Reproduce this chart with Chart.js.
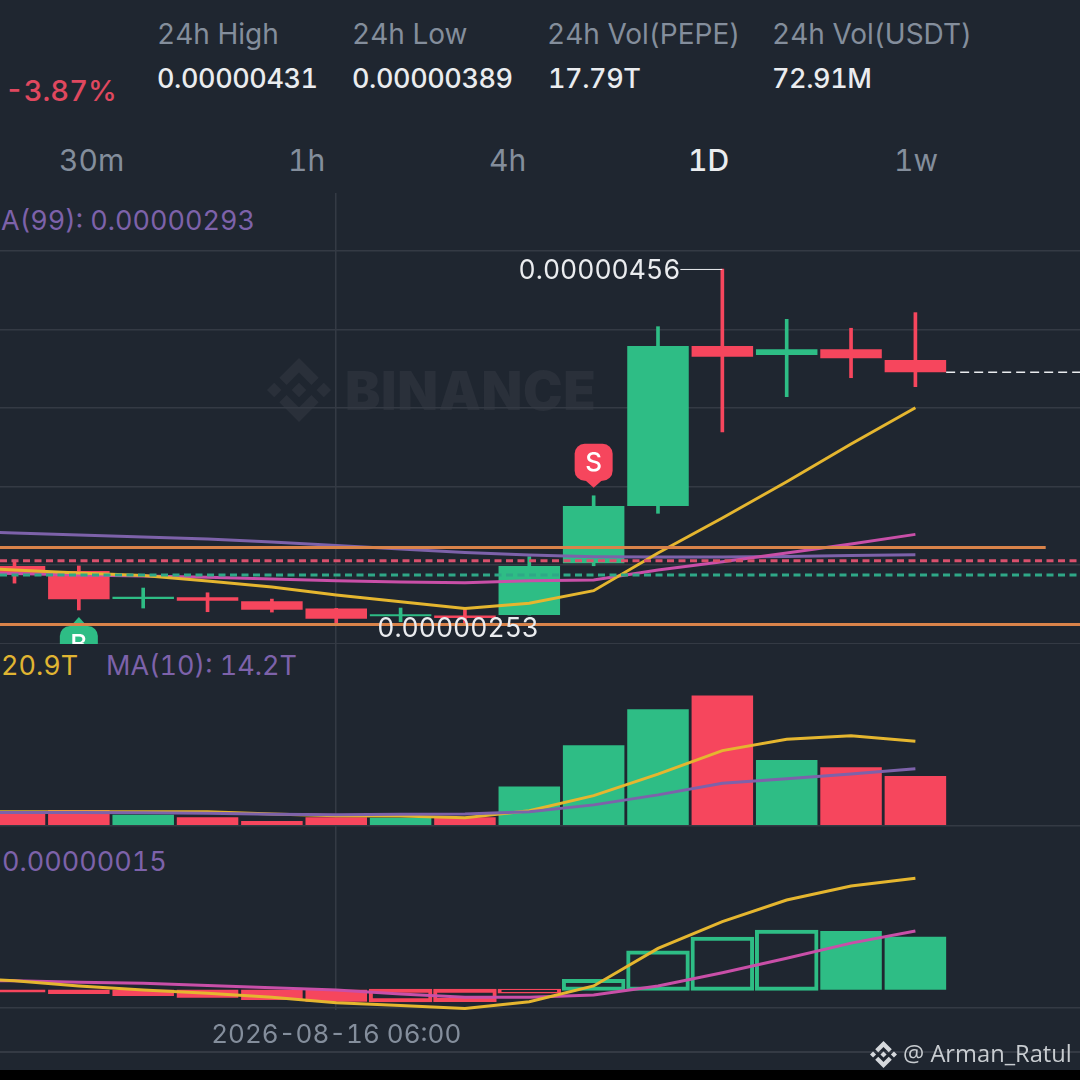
<!DOCTYPE html>
<html>
<head>
<meta charset="utf-8">
<title>PEPE/USDT</title>
<script src="https://cdn.jsdelivr.net/npm/chart.js@4"></script>
<style>
  html, body { margin: 0; padding: 0; background: #1f2630; }
  #page { position: relative; width: 1080px; height: 1080px; overflow: hidden; background: #1f2630; font-family: Inter, sans-serif; font-variant-numeric: tabular-nums; }
  #page canvas { position: absolute; left: 0; }
  .txt { position: absolute; white-space: nowrap; transform: translateY(-50%); line-height: 1; }
  .head { color: #848e9c; font-size: 28px; }
  .val { color: #eaecef; font-size: 27px; font-weight: 500; letter-spacing: -0.4px; }
  .tab { color: #848e9c; font-size: 30px; }
  .legend { font-size: 27px; }
  .purple { color: #7d62aa; }
  .yellow { color: #e0b532; }
  #timeRule { position: absolute; left: 0; top: 1051px; width: 1080px; height: 1.5px; background: #343a44; }
  #blackBar { position: absolute; left: 0; top: 1070px; width: 1080px; height: 10px; background: #000; }
</style>
</head>
<body>
<div id="page">
  <svg width="0" height="0" style="position:absolute">
    <symbol id="bnbLogo" viewBox="0 0 126.61 126.61">
      <path d="M38.73 53.2l24.59-24.58 24.6 24.6 14.3-14.31L63.32 0 24.41 38.9l14.32 14.3zM0 63.31l14.31-14.31 14.31 14.31-14.31 14.31zM38.73 73.41l24.59 24.59 24.6-24.6 14.31 14.29-38.9 38.91-38.91-38.88-.02-.02 14.33-14.29zM97.99 63.31l14.31-14.31 14.31 14.31-14.31 14.31zM77.83 63.3L63.32 48.78 52.59 59.51l-1.24 1.23-2.54 2.54 14.51 14.5 14.51-14.47z"/>
    </symbol>
  </svg>

  <span class="txt head" style="left:157px;top:34px">24h High</span>
  <span class="txt head" style="left:352px;top:34px">24h Low</span>
  <span class="txt head" style="left:547px;top:34px">24h Vol(PEPE)</span>
  <span class="txt head" style="left:772px;top:34px">24h Vol(USDT)</span>
  <span class="txt val" style="left:157px;top:78px">0.00000431</span>
  <span class="txt val" style="left:352px;top:78px">0.00000389</span>
  <span class="txt val" style="left:548px;top:78px">17.79T</span>
  <span class="txt val" style="left:772px;top:78px">72.91M</span>
  <span class="txt" style="left:5px;top:90px;font-size:29px;font-weight:500;color:#e0485f">-3.87%</span>

  <span class="txt tab" style="left:59px;top:160px">30m</span>
  <span class="txt tab" style="left:288px;top:160px">1h</span>
  <span class="txt tab" style="left:489px;top:160px">4h</span>
  <span class="txt tab" style="left:688px;top:160px;color:#eaecef;font-weight:500">1D</span>
  <span class="txt tab" style="left:894px;top:160px">1w</span>

  <span class="txt legend purple" style="left:1px;top:220px">A(99): 0.00000293</span>
  <span class="txt legend yellow" style="left:1px;top:665px">20.9T</span>
  <span class="txt legend purple" style="left:106px;top:665px">MA(10): 14.2T</span>
  <span class="txt legend purple" style="left:2px;top:861px">0.00000015</span>

  <!-- watermark sits behind the price canvas -->
  <svg style="position:absolute;left:267px;top:358px" width="64" height="64" fill="#2a303a"><use href="#bnbLogo"/></svg>
  <span class="txt" style="left:345px;top:391px;font-size:53px;font-weight:900;color:#2a303a;letter-spacing:0.7px">BINANCE</span>

  <canvas id="priceChart" width="1080" height="451" style="top:193px"></canvas>
  <canvas id="volumeChart" width="1080" height="183" style="top:644px"></canvas>
  <canvas id="macdChart" width="1080" height="225" style="top:827px"></canvas>
  <div id="timeRule"></div>

  <svg style="position:absolute;left:870px;top:1041px" width="27" height="27" fill="#d5d8dc"><use href="#bnbLogo"/></svg>
  <span class="txt" style="left:903px;top:1054px;font-size:23.7px;font-family:'Open Sans',sans-serif;color:#c8ccd0">@ Arman_Ratul</span>
  <div id="blackBar"></div>
</div>

<script>
// Prices are in units of 0.00000001, the first slot is the day left of the screen
const days = [0, 1, 2, 3, 4, 5, 6, 7, 8, 9, 10, 11, 12, 13, 14, 15];
const opens = [null, 286.7, 283.8, 267.8, 268.8, 266.5, 262.5, 258, 258.5, 258.7, 288.2, 320.9, 412.1, 407, 410.2, 404.1];
const closes = [null, 282.1, 267.7, 269.1, 266.9, 261.7, 256.6, 259.1, 257, 286.7, 320.9, 412.1, 406, 410.2, 405.1, 397.1];
const highs = [null, 290.1, 286.7, 274.1, 271.4, 267.8, 262.5, 262.7, 262.1, 292, 326.7, 423.1, 456, 427.3, 422.2, 431.1];
const lows = [null, 276.9, 261.6, 262.7, 260.6, 260.4, 253, 254.9, 254.3, 258.7, 286.8, 316.7, 363.1, 383.2, 394, 388.9];

const ma7 = [286.1, 284.4, 282.7, 281.2, 278.1, 274.7, 270.1, 266.3, 262.5, 265.4, 272.6, 294.1, 314, 334.7, 356.2, 376.9];
const ma25 = [282.7, 282.4, 281.5, 281, 280.2, 279.2, 278.3, 277.5, 277.1, 278.3, 278.7, 284.4, 289.1, 294.1, 299.2, 304.7];
const ma99 = [306.6, 305.5, 304.3, 303.2, 302, 300.3, 298.3, 296.3, 294.3, 292.9, 292, 291.8, 291.8, 292.1, 292.6, 293.1];

const volumes = [null, 2.9, 3.9, 2.7, 2.1, 1.2, 2.1, 2.0, 2.1, 9.8, 20.1, 29.1, 32.5, 16.4, 14.6, 12.4];
const volMa5 = [3.5, 3.5, 3.5, 3.5, 3.5, 2.9, 2.5, 2.4, 2.0, 3.75, 7.5, 12.9, 18.75, 21.6, 22.5, 21.1];
const volMa10 = [3.3, 3.3, 3.3, 3.2, 3.1, 2.85, 2.75, 2.85, 2.9, 3.5, 5.2, 7.7, 10.6, 11.7, 12.9, 14.2];

const macdHist = [null, -0.75, -1.2, -1.8, -2.3, -2.9, -3.4, -3.3, -3.2, -0.8, 2.75, 10.8, 14.7, 16.7, 16.6, 15];
const macdDif = [3.6, 2.5, 1.05, -0.1, -1.0, -2.15, -3.7, -4.5, -5.3, -3.4, 1.05, 11.7, 19.3, 25.4, 29.4, 31.6];
const macdDea = [2.75, 2.5, 2.1, 1.8, 1.15, 0.55, -0.1, -1.2, -2.15, -2.15, -1.5, 1.05, 4.8, 8.9, 13.2, 16.6];

const priceTicks = [466.4, 421.6, 376.9, 332.1, 287.3, 242.6];
const volumeTicks = [0];
const macdTicks = [-5];
const timeTicks = [6];
const timeLabels = ['2026-08-16 06:00'];

// Position and trade lines across the price pane
const positionHigh = 297.2;
const positionLow = 253.3;
const sellLevel = 289.7;
const buyLevel = 281.5;
const lastPrice = 397.1;

const RED = '#f6465d';
const GREEN = '#2ebd85';
const YELLOW = '#e5b62f';
const MAGENTA = '#c94fa8';
const PURPLE = '#7d62aa';
const ORANGE = '#d9834a';
const GRID = '#343a44';
const FONT = 'Inter, sans-serif';

const xMin = 0.7747;
const xMax = 17.558;

function points(values) {
    return values.map((v, i) => ({ x: days[i], y: v })).filter(p => p.y !== null);
}

function lineSet(values, color, order) {
    return { type: 'line', data: points(values), borderColor: color, borderWidth: 3, pointRadius: 0, tension: 0, order: order };
}

function levelSet(value, endX, color, dash, width, order, startX) {
    return {
        type: 'line',
        data: [{ x: startX === undefined ? xMin : startX, y: value }, { x: endX, y: value }],
        borderColor: color, borderWidth: width, borderDash: dash, pointRadius: 0, order: order
    };
}

function paneOptions(yMin, yMax, yTicks) {
    return {
        responsive: false,
        animation: false,
        devicePixelRatio: 1,
        events: [],
        layout: { padding: 0 },
        plugins: { legend: { display: false }, tooltip: { enabled: false } },
        scales: {
            x: {
                type: 'linear',
                min: xMin,
                max: xMax,
                offset: false,
                afterBuildTicks: scale => { scale.ticks = timeTicks.map(v => ({ value: v })); },
                ticks: { display: false },
                border: { display: false },
                grid: { color: GRID, lineWidth: 1.5, drawTicks: false, offset: false }
            },
            y: {
                min: yMin,
                max: yMax,
                afterBuildTicks: scale => { scale.ticks = yTicks.map(v => ({ value: v })); },
                ticks: { display: false },
                border: { display: false },
                grid: { color: GRID, lineWidth: 1.5, drawTicks: false }
            }
        }
    };
}

function candleColors() {
    return opens.filter(v => v !== null).map((o, i) => (closes[i + 1] >= o ? GREEN : RED));
}

function drawMarker(ctx, cx, boxTop, tipY, color, letter) {
    const boxHeight = 37;
    const halfWidth = 19;
    const up = tipY < boxTop;
    const neck = up ? boxTop + 1 : boxTop + boxHeight - 1;
    ctx.fillStyle = color;
    ctx.beginPath();
    ctx.roundRect(cx - halfWidth, boxTop, halfWidth * 2, boxHeight, 10);
    ctx.fill();
    ctx.beginPath();
    ctx.moveTo(cx - 9, neck);
    ctx.lineTo(cx, tipY);
    ctx.lineTo(cx + 9, neck);
    ctx.fill();
    ctx.fillStyle = '#fff';
    ctx.font = '500 26px ' + FONT;
    ctx.textAlign = 'center';
    ctx.textBaseline = 'middle';
    ctx.fillText(letter, cx, boxTop + boxHeight / 2 + 1);
}

const priceMarks = {
    id: 'priceMarks',
    beforeDatasetsDraw(chart) {
        const { ctx, scales: { x, y } } = chart;
        ctx.save();
        const sTip = y.getPixelForValue(highs[10]) - 8;
        drawMarker(ctx, x.getPixelForValue(10), sTip - 44, sTip, RED, 'S');
        const bTip = y.getPixelForValue(lows[2]) + 7;
        drawMarker(ctx, x.getPixelForValue(2), bTip + 9, bTip, GREEN, 'B');
        ctx.restore();
    },
    afterDatasetsDraw(chart) {
        const { ctx, scales: { x, y } } = chart;
        const highX = x.getPixelForValue(12);
        const highY = y.getPixelForValue(highs[12]);
        const lowX = x.getPixelForValue(6);
        const lowY = y.getPixelForValue(lows[6]);
        ctx.save();
        ctx.strokeStyle = '#eaecef';
        ctx.lineWidth = 1;
        ctx.beginPath();
        ctx.moveTo(highX, highY + 0.5);
        ctx.lineTo(highX - 42, highY + 0.5);
        ctx.stroke();
        ctx.fillStyle = '#eaecef';
        ctx.font = '26.5px ' + FONT;
        ctx.textBaseline = 'middle';
        ctx.textAlign = 'right';
        ctx.fillText('0.00000456', highX - 42, highY + 2);
        ctx.textAlign = 'left';
        ctx.fillText('0.00000253', lowX + 41, lowY + 4);
        ctx.restore();
    }
};

// Price pane
const ctx1 = document.getElementById('priceChart').getContext('2d');
const chart1 = new Chart(ctx1, {
    type: 'bar',
    data: {
        datasets: [
            {
                data: days.slice(1).map((d, i) => ({ x: d, y: [lows[i + 1], highs[i + 1]] })),
                backgroundColor: candleColors(),
                barThickness: 3,
                grouped: false,
                order: 6
            },
            {
                data: days.slice(1).map((d, i) => ({ x: d, y: [opens[i + 1], closes[i + 1]] })),
                backgroundColor: candleColors(),
                barPercentage: 0.956,
                categoryPercentage: 1,
                grouped: false,
                order: 5
            },
            lineSet(ma99, PURPLE, 4),
            lineSet(ma25, MAGENTA, 3),
            lineSet(ma7, YELLOW, 2),
            levelSet(sellLevel, xMax, '#d9506c', [7, 4.5], 3, 1),
            levelSet(buyLevel, xMax, '#2fa887', [7, 4.5], 3, 1),
            levelSet(positionHigh, 17.025, ORANGE, [], 3, 0),
            levelSet(positionLow, xMax, ORANGE, [], 3, 0),
            levelSet(lastPrice, xMax, '#eaecef', [9, 5], 1.5, 0, 15.478)
        ]
    },
    options: paneOptions(242.2, 499.3, priceTicks),
    plugins: [priceMarks]
});

// Volume pane
const ctx2 = document.getElementById('volumeChart').getContext('2d');
const chart2 = new Chart(ctx2, {
    type: 'bar',
    data: {
        datasets: [
            {
                data: points(volumes),
                backgroundColor: candleColors(),
                barPercentage: 0.956,
                categoryPercentage: 1,
                grouped: false,
                order: 3
            },
            lineSet(volMa10, PURPLE, 1),
            lineSet(volMa5, YELLOW, 2)
        ]
    },
    options: paneOptions(-0.33, 45.4, volumeTicks)
});

// MACD pane, a bar is hollow while the histogram is rising
const histPoints = points(macdHist);
const histRising = histPoints.map((p, i) => i > 0 && p.y > histPoints[i - 1].y);
const histColors = histPoints.map(p => (p.y >= 0 ? GREEN : RED));

// The time axis hangs under this pane, so the grid stops above the date
const macdOptions = paneOptions(-5.76, 46.1, macdTicks);
macdOptions.scales.x.ticks = {
    display: true,
    color: '#848e9c',
    font: { family: FONT, size: 26 },
    padding: 10,
    maxRotation: 0,
    autoSkip: false,
    callback: value => timeLabels[timeTicks.indexOf(value)]
};
macdOptions.scales.x.afterFit = scale => { scale.height = 42; };

const ctx3 = document.getElementById('macdChart').getContext('2d');
const chart3 = new Chart(ctx3, {
    type: 'bar',
    data: {
        datasets: [
            {
                data: histPoints,
                backgroundColor: histColors.map((c, i) => (histRising[i] ? 'transparent' : c)),
                borderColor: histColors,
                borderWidth: histRising.map(r => (r ? 2 : 0)),
                borderSkipped: false,
                inflateAmount: histRising.map(r => (r ? 1 : 0)),
                barPercentage: 0.956,
                categoryPercentage: 1,
                grouped: false,
                order: 3
            },
            lineSet(macdDea, MAGENTA, 2),
            lineSet(macdDif, YELLOW, 1)
        ]
    },
    options: macdOptions
});
</script>
</body>
</html>
